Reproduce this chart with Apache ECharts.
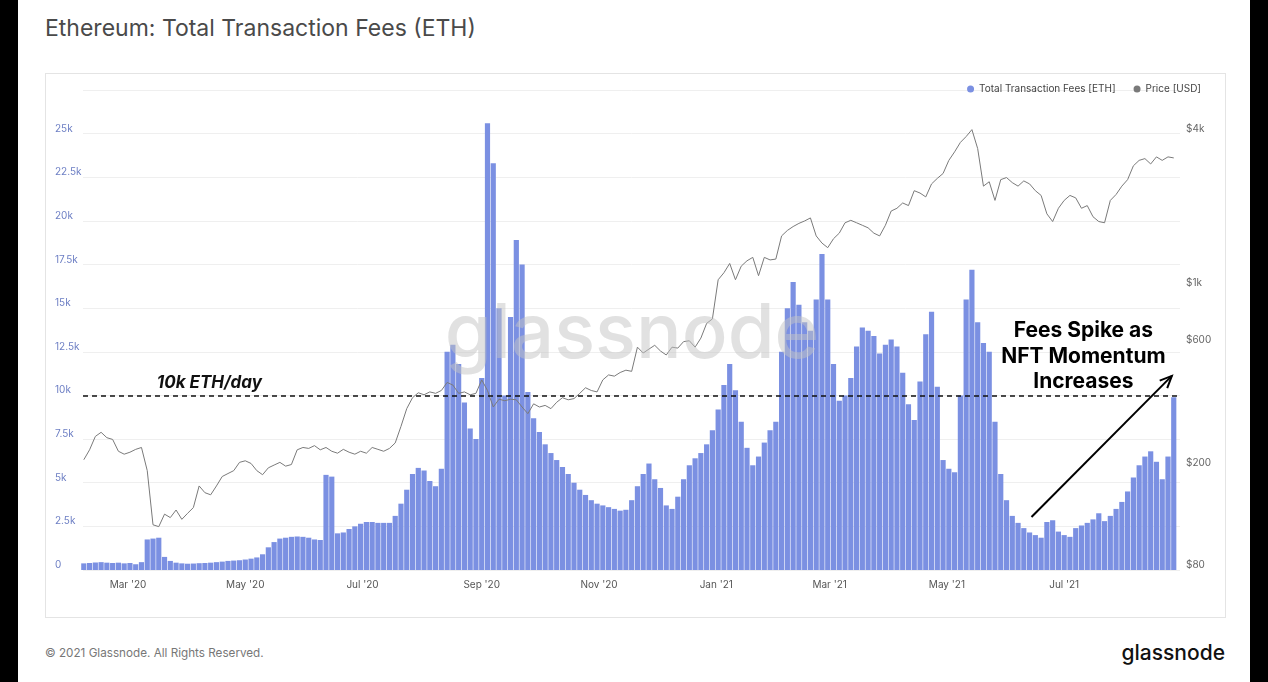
<!DOCTYPE html>
<html><head><meta charset="utf-8">
<script src="https://cdn.jsdelivr.net/npm/echarts@6/dist/echarts.min.js"></script>
<style>
html,body{margin:0;padding:0;background:#fff;width:1268px;height:682px;overflow:hidden;font-family:Inter,'Noto Sans',sans-serif;}
#stripL{position:absolute;left:0;top:0;width:18px;height:682px;background:#000;}
#stripR{position:absolute;left:1250px;top:0;width:18px;height:682px;background:#000;}
#title{position:absolute;left:45px;top:14px;font-size:23px;color:#4a4a4a;line-height:28px;white-space:nowrap;}
#box{position:absolute;left:45px;top:73px;width:1179px;height:543px;border:1px solid #e4e4e4;}
#chart{position:absolute;left:0;top:0;width:1268px;height:682px;}
#foot{position:absolute;left:45px;top:646px;font-size:11.7px;line-height:14px;color:#777;}
#logo{position:absolute;right:43px;top:640px;font-size:21px;line-height:26px;color:#111;font-weight:500;}
</style></head>
<body>
<div id="stripL"></div><div id="stripR"></div>
<div id="title">Ethereum: Total Transaction Fees (ETH)</div>
<div id="box"></div>
<div id="foot">© 2021 Glassnode. All Rights Reserved.</div>
<div id="logo">glassnode</div>
<div id="chart"></div>
<script>
// ---- data ----
const startDate = [2020, 1, 7];   // 7 Feb 2020 (year, monthIndex, day)
const stepDays = 3;
const fees = [
 380,400,430,450,420,400,420,380,400,330,
 450,1750,1800,1850,750,520,420,380,360,370,
 390,400,420,450,480,520,540,560,600,650,
 720,900,1300,1600,1800,1850,1900,1920,1900,1850,
 1750,1720,5450,5350,2100,2150,2350,2500,2650,2750,
 2750,2700,2700,2700,3100,3800,4600,5500,5850,5700,
 5100,4800,5800,12500,12900,11800,9600,8100,7500,11000,
 25600,23300,15000,10000,14500,18900,17500,10200,8700,7900,
 7200,6700,6300,5900,5500,5000,4600,4300,4000,3800,
 3700,3600,3500,3400,3450,4000,4800,5500,6100,5200,
 4700,3700,3500,4200,5200,6000,6400,6700,7200,8000,
 9200,10600,11800,10300,8500,7000,6000,6500,7300,8000,
 8500,12500,15000,16500,15200,14200,13700,15500,18100,15500,
 11800,9700,10000,11000,12800,13900,13700,13400,12400,12900,
 13200,12800,11300,9500,8600,10800,13500,14800,10500,6300,
 5800,5600,10000,15500,17200,14200,13000,12500,8500,5500,
 4000,3100,2700,2400,2150,2000,1850,2750,2850,2200,
 2000,1900,2400,2550,2700,2900,3250,2800,3100,3500,
 3900,4500,5300,6000,6500,6800,6200,5200,6500,9900
];
const prices = [
 215,235,265,275,262,258,232,226,230,236,
 240,195,120,118,132,128,137,126,133,140,
 170,160,157,170,185,190,195,210,213,208,
 195,188,200,205,210,203,206,235,240,238,
 244,235,240,232,228,236,230,226,232,228,
 240,236,232,238,250,290,340,375,392,385,
 395,390,400,430,420,390,395,385,390,440,
 400,345,370,365,370,368,345,325,355,345,
 350,340,360,375,368,372,390,410,400,395,
 440,460,455,470,480,475,590,560,580,600,
 570,550,590,585,620,625,590,640,730,760,
 1080,1150,1250,1080,1220,1280,1320,1120,1320,1290,
 1300,1600,1680,1740,1790,1830,1880,1600,1500,1440,
 1560,1640,1800,1840,1800,1760,1720,1640,1600,1760,
 2000,2050,2150,2100,2400,2350,2270,2550,2680,2800,
 3150,3400,3700,3900,4150,3500,2500,2600,2200,2650,
 2700,2580,2500,2620,2550,2400,2300,1950,1820,2050,
 2200,2300,2250,2050,2100,1900,1820,1800,2200,2320,
 2500,2650,3000,3150,3200,3050,3250,3150,3250,3220
];
const xTickDates = ['2020-03-01','2020-05-01','2020-07-01','2020-09-01','2020-11-01','2021-01-01','2021-03-01','2021-05-01','2021-07-01'];
const priceTicks = [80, 200, 600, 1000, 4000];
const feeThreshold = 10000;
const thresholdLabel = ['2020-03-16', 10000];
const noteText = 'Fees Spike as\nNFT Momentum\nIncreases';
const noteAnchor = ['2021-07-11', 12230];
const arrowFrom = ['2021-06-14', 3040];
const arrowTo = ['2021-08-26', 11120];

// ---- build ----
const dates = fees.map((_, i) => new Date(startDate[0], startDate[1], startDate[2] + stepDays * i).getTime());
const feeData = fees.map((v, i) => [dates[i], v]);
const priceData = prices.map((v, i) => [dates[i], Math.log10(v)]);
const MONTHS = ['Jan','Feb','Mar','Apr','May','Jun','Jul','Aug','Sep','Oct','Nov','Dec'];
const ts = s => new Date(s + 'T00:00:00').getTime();

const chart = echarts.init(document.getElementById('chart'), null, {renderer: 'canvas'});
const FONT = 'Inter';
chart.setOption({
  animation: false,
  backgroundColor: 'transparent',
  textStyle: {fontFamily: FONT},
  legend: {
    right: 62, top: 79, itemWidth: 7, itemHeight: 7, itemGap: 18, icon: 'circle',
    textStyle: {fontSize: 10, color: '#444', fontFamily: FONT},
    data: ['Total Transaction Fees [ETH]', 'Price [USD]']
  },
  grid: {left: 83, right: 88, top: 90, bottom: 112},
  xAxis: {
    type: 'value', scale: true,
    min: new Date(2020, 1, 6, 14).getTime(),
    max: new Date(2021, 7, 30, 6).getTime(),
    axisLine: {show: false}, axisTick: {show: false}, splitLine: {show: false},
    axisLabel: {
      customValues: xTickDates.map(ts),
      margin: 10, fontSize: 10, color: '#555', fontFamily: FONT,
      formatter: v => { const d = new Date(v); return MONTHS[d.getMonth()] + " '" + String(d.getFullYear()).slice(2); }
    }
  },
  yAxis: [{
    type: 'value', min: 0, max: 27500, interval: 2500, position: 'left',
    axisLine: {show: false}, axisTick: {show: false},
    splitLine: {lineStyle: {color: '#efefef', width: 1}},
    axisLabel: {
      align: 'left', margin: 28, verticalAlign: 'bottom', fontSize: 10, color: '#6d7fc4', fontFamily: FONT,
      formatter: v => v >= 27500 ? '' : (v === 0 ? '0' : (v / 1000) + 'k')
    }
  }, {
    type: 'value', position: 'right', min: Math.log10(80), max: Math.log10(5920),
    axisLine: {show: false}, axisTick: {show: false}, splitLine: {show: false},
    axisLabel: {
      customValues: priceTicks.map(Math.log10),
      align: 'left', margin: 6, verticalAlign: 'bottom', fontSize: 10, color: '#666', fontFamily: FONT,
      formatter: v => { const p = Math.round(Math.pow(10, v)); return p >= 1000 ? '$' + (p / 1000) + 'k' : '$' + p; }
    }
  }],
  series: [{
    name: 'Total Transaction Fees [ETH]', type: 'bar', data: feeData, yAxisIndex: 0,
    barCategoryGap: '10%', itemStyle: {color: '#7b90e2'}, z: 2,
    markLine: {
      silent: true, symbol: 'none', label: {show: false},
      lineStyle: {color: '#111', type: [5, 4], width: 1.5},
      data: [{yAxis: feeThreshold}]
    }
  }, {
    name: 'Price [USD]', type: 'line', data: priceData, yAxisIndex: 1,
    showSymbol: false, symbol: 'none', itemStyle: {color: '#7a7a7a'},
    lineStyle: {color: '#7a7a7a', width: 1}, z: 3
  }]
});

function px(pt) { return chart.convertToPixel({gridIndex: 0}, [ts(pt[0]), pt[1]]); }
const lbl = px(thresholdLabel);
const note = px(noteAnchor);
const a = px(arrowFrom), b = px(arrowTo);
const ang = Math.atan2(b[1] - a[1], b[0] - a[0]);
const hl = 13, sp = 0.42;
const h1 = [b[0] - hl * Math.cos(ang - sp), b[1] - hl * Math.sin(ang - sp)];
const h2 = [b[0] - hl * Math.cos(ang + sp), b[1] - hl * Math.sin(ang + sp)];
chart.setOption({
  graphic: [
    {type: 'text', x: 632, y: 335, z: 100, silent: true,
     style: {text: 'glassnode', fontSize: 76, fontFamily: FONT, fontWeight: 500, fill: 'rgba(195,195,195,0.5)', align: 'center', verticalAlign: 'middle'}},
    {type: 'text', x: lbl[0], y: lbl[1] - 4, z: 101,
     style: {text: '10k ETH/day', fontSize: 17, fontStyle: 'italic', fontWeight: 'bold', fontFamily: FONT, fill: '#111', align: 'left', verticalAlign: 'bottom'}},
    {type: 'text', x: note[0], y: note[1], z: 101,
     style: {text: noteText, fontSize: 21, fontWeight: 'bold', fontFamily: FONT, fill: '#000', align: 'center', verticalAlign: 'middle', lineHeight: 25.5}},
    {type: 'line', z: 101, shape: {x1: a[0], y1: a[1], x2: b[0], y2: b[1]}, style: {stroke: '#000', lineWidth: 2}},
    {type: 'polyline', z: 101, shape: {points: [h1, b, h2]}, style: {stroke: '#000', lineWidth: 2, fill: null}}
  ]
});
</script>
</body></html>
